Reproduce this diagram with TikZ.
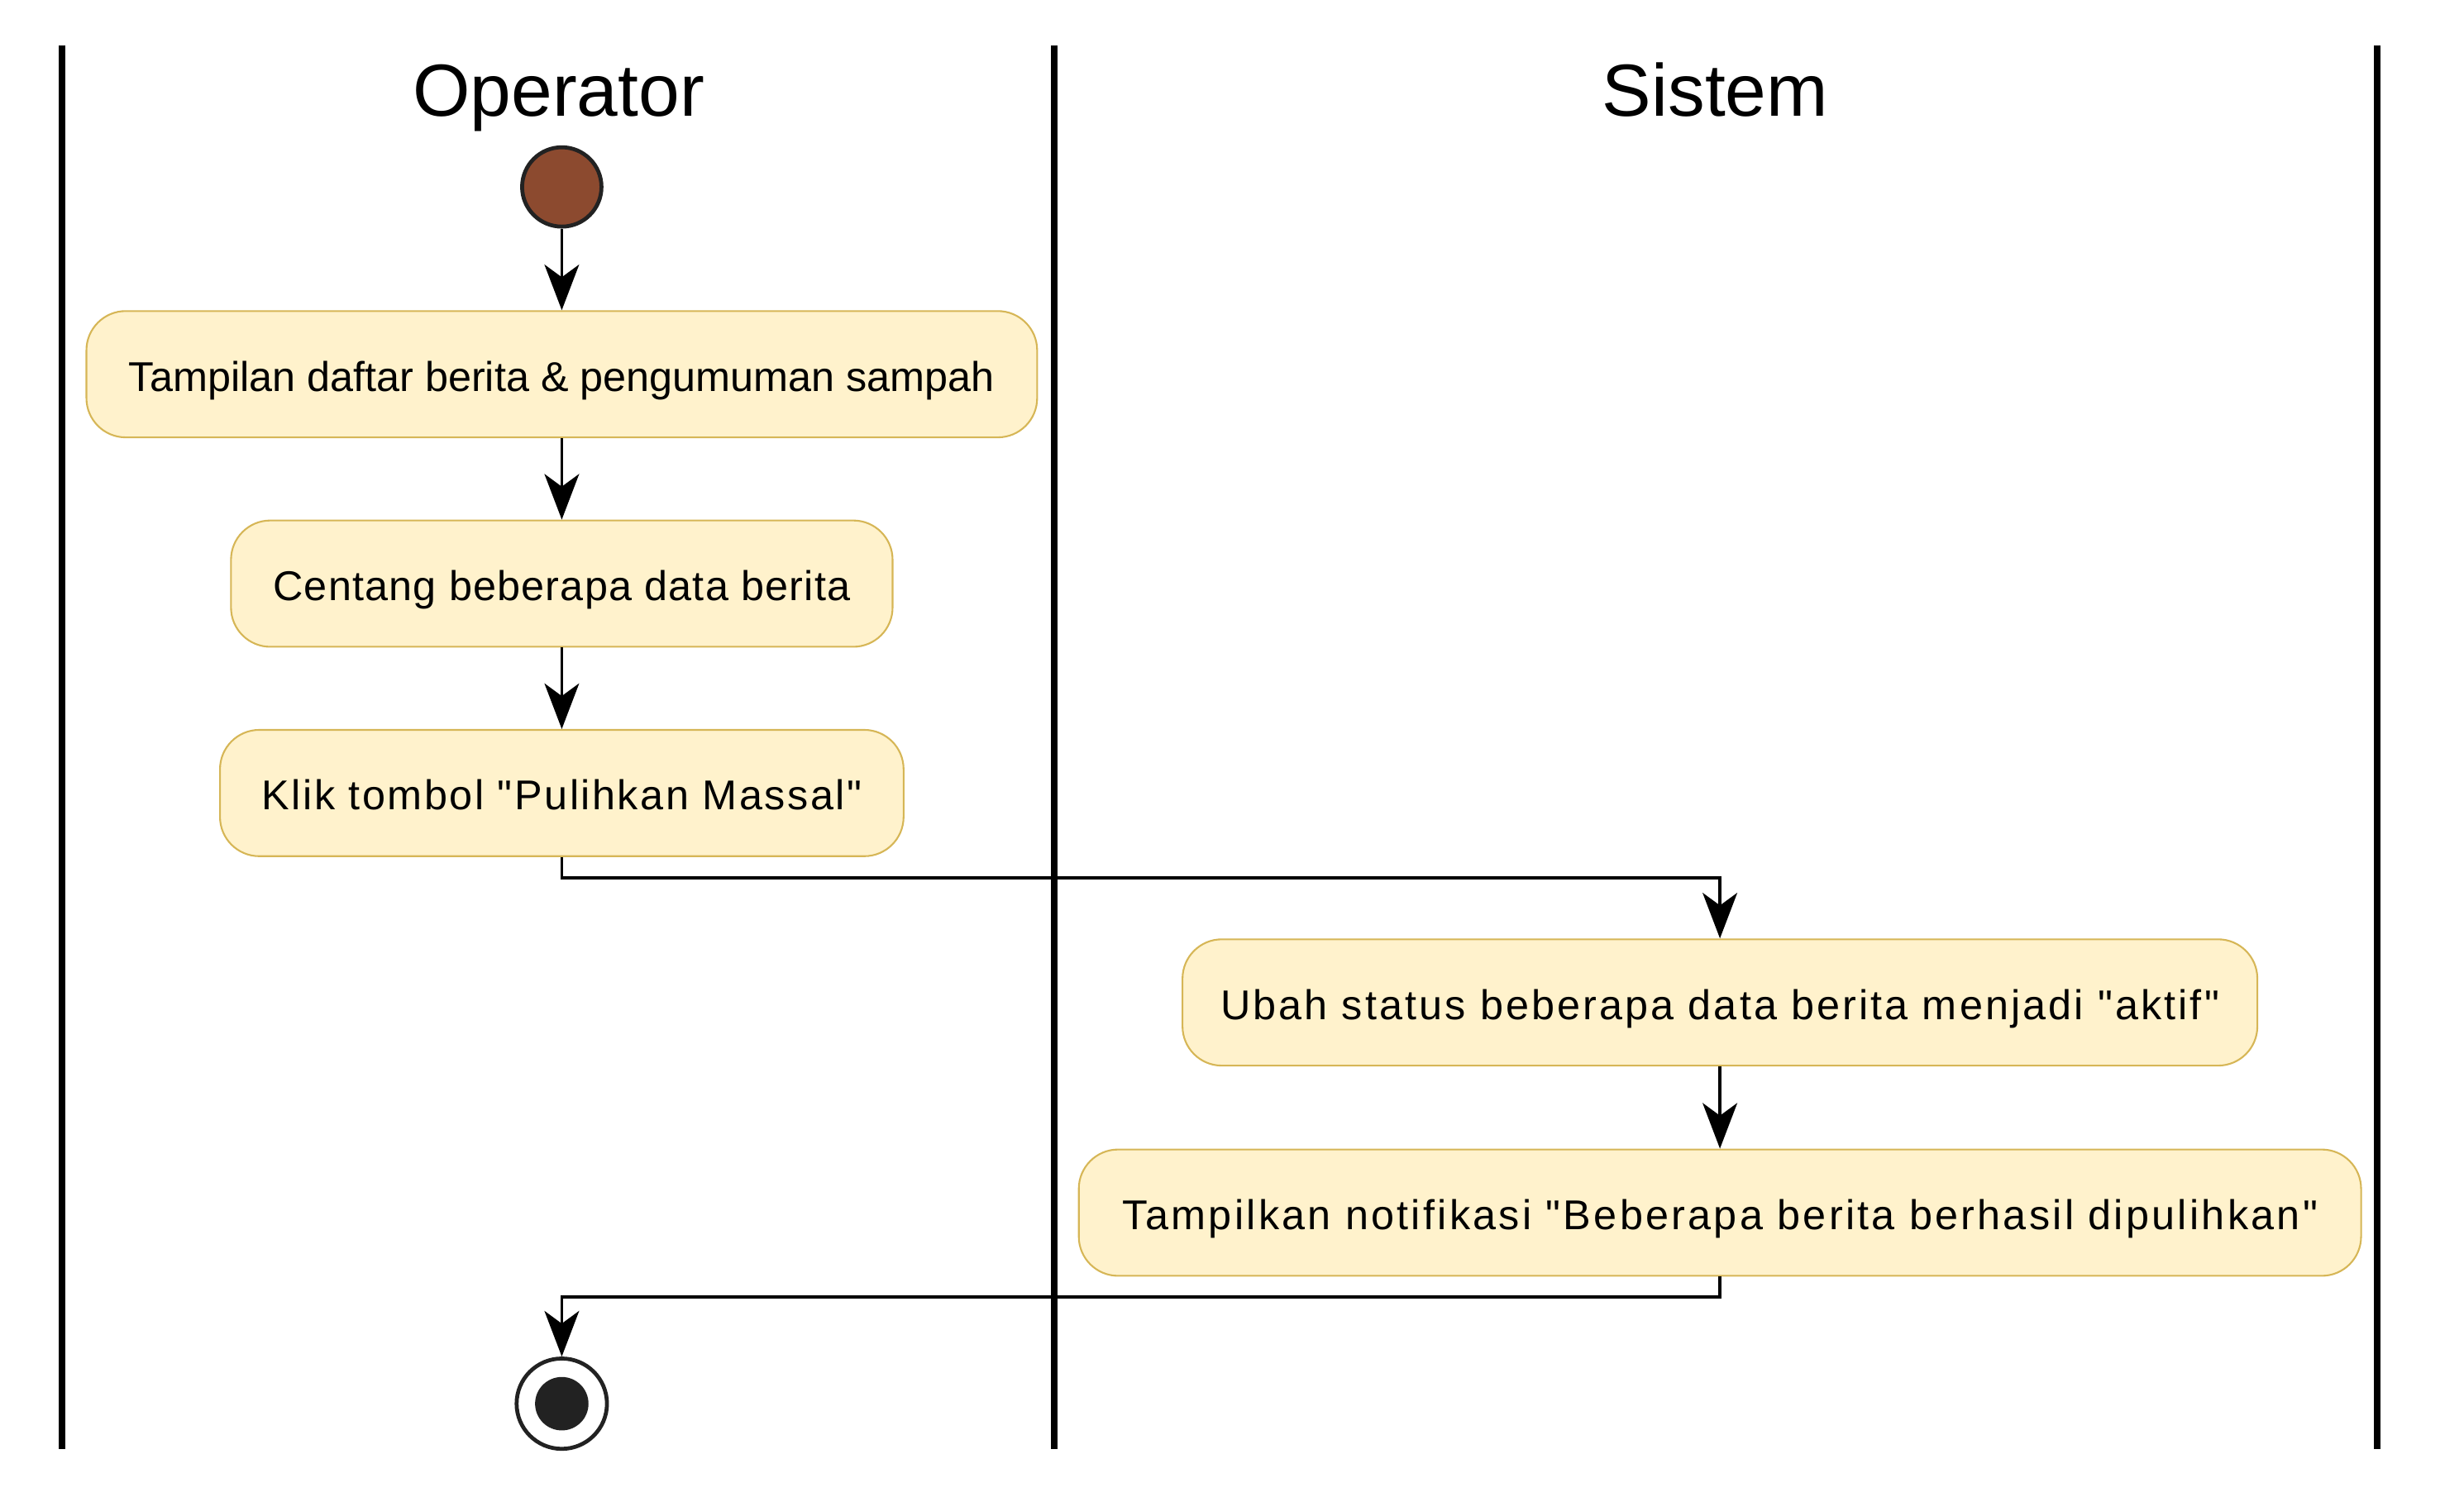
\documentclass[tikz,border=0pt]{standalone}
\usepackage{fontspec}
\newfontfamily\lsans{Liberation Sans}
\usetikzlibrary{arrows.meta}
\definecolor{boxfill}{HTML}{FFF2CC}
\definecolor{boxline}{HTML}{D6B656}
\definecolor{startfill}{HTML}{8C4A2F}
\definecolor{darkc}{HTML}{222222}
\tikzset{
  lane/.style={line width=3.9pt, draw=black},
  title/.style={anchor=base, inner sep=0pt, font=\lsans\fontsize{47}{50}\selectfont},
  actbox/.style={draw=boxline, fill=boxfill, line width=1.1pt, rounded corners=25pt,
    minimum height=80.4pt, inner sep=0pt, text height=21.6pt, text depth=0pt,
    font=\lsans\fontsize{26.5}{30}\selectfont},
  conn/.style={line width=2pt, draw=black, -{Stealth[length=29pt, width=22pt, inset=8pt]}},
  startnode/.style={circle, fill=startfill, draw=darkc, line width=2.5pt, minimum size=50.5pt, inner sep=0pt},
  stopnode/.style={circle, fill=white, draw=darkc, line width=2.5pt, minimum size=57.5pt, inner sep=0pt},
  stopdot/.style={circle, fill=darkc, minimum size=34pt, inner sep=0pt}
}
\begin{document}
\begin{tikzpicture}[x=1pt, y=-1pt]
\useasboundingbox (0,0) rectangle (1568,952.4);
% lanes
\draw[lane] (39.5,28.9) -- (39.5,922.5);
\draw[lane] (670.9,28.9) -- (670.9,922.5);
\draw[lane] (1512.8,28.9) -- (1512.8,922.5);
\node[title] (t1) at (355.5,74) {Operator};
\node[title] (t2) at (1091.5,74) {Sistem};
% nodes
\node[startnode] (start) at (357.5,119) {};
\node[actbox, minimum width=605pt] (a1) at (357.5,238.2) {Tampilan daftar berita \& pengumuman sampah};
\node[actbox, minimum width=421pt] (a2) at (357.5,371.5) {\addfontfeature{LetterSpace=2.4}Centang beberapa data berita};
\node[actbox, minimum width=435pt] (a3) at (357.5,504.8) {\addfontfeature{LetterSpace=5.0}Klik tombol "Pulihkan Massal"};
\node[actbox, minimum width=684pt] (a4) at (1094.5,638.1) {\addfontfeature{LetterSpace=6.2}Ubah status beberapa data berita menjadi "aktif"};
\node[actbox, minimum width=816pt] (a5) at (1094.5,771.9) {\addfontfeature{LetterSpace=6.5}Tampilkan notifikasi "Beberapa berita berhasil dipulihkan"};
\node[stopnode] (stop) at (357.5,893.5) {};
\node[stopdot] (stopin) at (357.5,893.5) {};
% junction levels
\coordinate (j1) at (0,558.6);
\coordinate (j2) at (0,825.6);
% connectors
\draw[conn] (start) -- (a1);
\draw[conn] (a1) -- (a2);
\draw[conn] (a2) -- (a3);
\draw[conn] (a3.south) -- (a3.south |- j1) -| (a4.north);
\draw[conn] (a4) -- (a5);
\draw[conn] (a5.south) -- (a5.south |- j2) -| (stop.north);
\end{tikzpicture}
\end{document}
